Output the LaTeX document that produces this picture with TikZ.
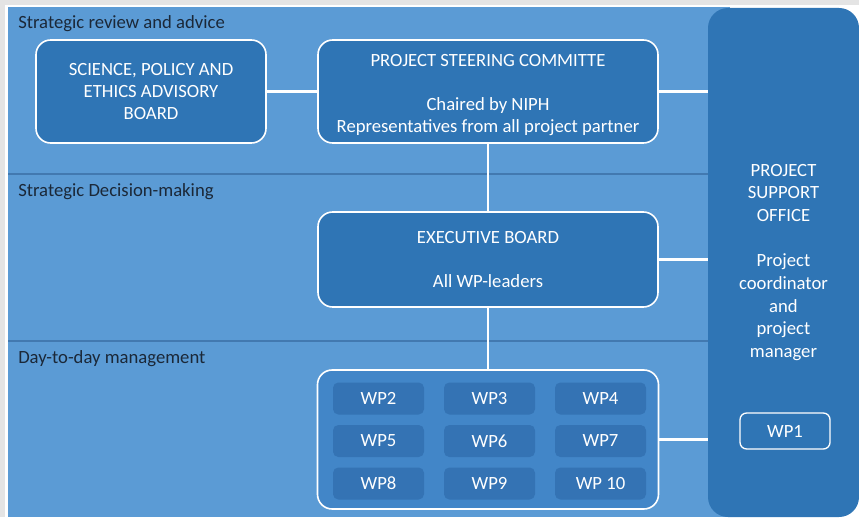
\documentclass[tikz,border=0pt]{standalone}
\usepackage{fontspec}
\setmainfont{Carlito}
\usetikzlibrary{calc}
\usetikzlibrary{positioning}
\definecolor{pagegrey}{HTML}{E4E4E4}
\definecolor{bandblue}{HTML}{5B9BD5}
\definecolor{bandline}{HTML}{4279B0}
\definecolor{boxblue}{HTML}{2F75B5}
\definecolor{groupblue}{HTML}{4286C8}
\definecolor{wpblue}{HTML}{3473B4}
\definecolor{labelink}{HTML}{1B2838}
\tikzset{
	every node/.style={font=\fontsize{14}{16.5}\selectfont},
	align=center,
	band/.style={
		fill=bandblue,
	},
	tier/.style={
		anchor=west,
		text=labelink,
		inner sep=0pt,
	},
	body/.style={
		draw=white,
		line width=1.2pt,
		fill=boxblue,
		rounded corners=11pt,
		text=white,
	},
	group/.style={
		draw=white,
		line width=1.2pt,
		fill=groupblue,
		rounded corners=11pt,
	},
	wp/.style={
		fill=wpblue,
		rounded corners=4pt,
		text=white,
		minimum width=68.25pt,
		minimum height=24pt,
	},
	office/.style={
		fill=boxblue,
		rounded corners=15pt,
		text=white,
		font=\fontsize{14}{17}\selectfont,
	},
	link/.style={
		draw=white,
		line width=2.2pt,
	},
}

\begin{document}
\begin{tikzpicture}[x=0.75pt,y=-0.75pt]

		% page and the three bands
		\fill[pagegrey] (0,0) rectangle (859,517);
		\fill[white] (5,5) rectangle (859,517);
		\fill[band] (8,7) rectangle (730,517);
		\draw[bandline,line width=1pt] (8,174) -- (730,174);
		\draw[bandline,line width=1pt] (8,341) -- (730,341);
		\useasboundingbox (0,0) rectangle (859,517);

		\node[tier] 			(review) at (18,24) {Strategic review and advice};
		\node[tier] 			(decide) at (18,192) {Strategic Decision-making};
		\node[tier] 			(daily) at (18,359) {Day-to-day management};

		\node[office,minimum width=113.25pt,minimum height=381.75pt] (office) at (783.5,262.5)
			{PROJECT\\SUPPORT\\OFFICE\\[17pt]Project\\coordinator\\and\\project\\manager};
		\node[body,draw=white,line width=1pt,rounded corners=5pt,minimum width=67.5pt,minimum height=27pt] (wp1) at (785,431) {WP1};

		\node[body,minimum width=172.5pt,minimum height=77.25pt] (advisory) at (151,91.5)
			{SCIENCE, POLICY AND\\ETHICS ADVISORY\\BOARD};
		\node[body,minimum width=255pt,minimum height=77.25pt] (steering) at (488,91.5)
			{\rule{0pt}{14.5pt}PROJECT STEERING COMMITTE\\[16.5pt]Chaired by NIPH\\Representatives from all project partner};
		\node[body,minimum width=255pt,minimum height=71.25pt] (executive) at (488,259.5)
			{EXECUTIVE BOARD\\[16.5pt]All WP-leaders};
		\node[group,minimum width=255.75pt,minimum height=104.25pt] (wps) at (488,439.5) {};

		\node[wp] 					(wp2) at (378.5,398.5) {WP2};
		\node[wp] 					(wp3) at (489.5,398.5) {WP3};
		\node[wp] 					(wp4) at (600.5,398.5) {WP4};
		\node[wp] 					(wp5) at (378.5,441) {WP5};
		\node[wp] 					(wp6) at (489.5,441) {WP6};
		\node[wp] 					(wp7) at (600.5,441) {WP7};
		\node[wp] 					(wp8) at (378.5,483.5) {WP8};
		\node[wp] 					(wp9) at (489.5,483.5) {WP9};
		\node[wp] 					(wp10) at (600.5,483.5) {WP 10};

		\draw[link] 			(advisory) -- (steering);
		\draw[link] 			(steering) -- (executive);
		\draw[link] 			(executive) -- (wps);
		\draw[link] 			(steering.east) -- (office.west |- steering.east);
		\draw[link] 			(executive.east) -- (office.west |- executive.east);
		\draw[link] 			(wps.east) -- (office.west |- wps.east);

	\end{tikzpicture}
\end{document}
